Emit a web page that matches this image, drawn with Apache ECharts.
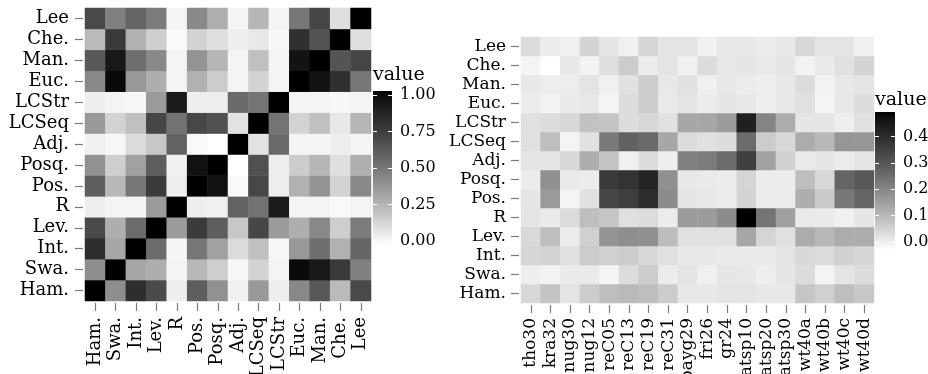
<!DOCTYPE html>
<html>
<head>
<meta charset="utf-8">
<script src="https://cdn.jsdelivr.net/npm/echarts@6/dist/echarts.min.js"></script>
<style>
  html, body { margin: 0; padding: 0; background: #fff; }
  #main { width: 928px; height: 374px; }
</style>
</head>
<body>
<div id="main"></div>
<script>
(function() {
  'use strict';
  var echarts = window.echarts;

  // measures, bottom row first (same order as the x axis)
  var measures = ['Ham.', 'Swa.', 'Int.', 'Lev.', 'R', 'Pos.', 'Posq.', 'Adj.', 'LCSeq', 'LCStr', 'Euc.', 'Man.', 'Che.', 'Lee'];
  var instances = ['tho30', 'kra32', 'nug30', 'nug12', 'reC05', 'reC13', 'reC19', 'reC31', 'bayg29', 'fri26',
    'gr24', 'atsp10', 'atsp20', 'atsp30', 'wt40a', 'wt40b', 'wt40c', 'wt40d'];

  // left panel: measure x measure, rows in measures order
  var simRows = [
    [1, 0.41, 0.81, 0.685, 0.06, 0.60, 0.40, 0.05, 0.37, 0.06, 0.435, 0.625, 0.245, 0.69],
    [0.41, 1, 0.32, 0.29, 0.04, 0.255, 0.17, 0.03, 0.155, 0.04, 0.97, 0.915, 0.755, 0.46],
    [0.81, 0.32, 1, 0.545, 0.035, 0.505, 0.34, 0.125, 0.225, 0.03, 0.375, 0.535, 0.28, 0.57],
    [0.685, 0.29, 0.545, 1, 0.36, 0.75, 0.60, 0.195, 0.705, 0.36, 0.29, 0.435, 0.17, 0.48],
    [0.06, 0.04, 0.035, 0.36, 1, 0.06, 0.05, 0.585, 0.52, 0.905, 0.04, 0.04, 0.02, 0.04],
    [0.60, 0.255, 0.505, 0.75, 0.06, 1, 0.95, 0.02, 0.70, 0.06, 0.28, 0.39, 0.155, 0.43],
    [0.40, 0.17, 0.34, 0.60, 0.05, 0.95, 1, 0.0, 0.66, 0.06, 0.18, 0.26, 0.11, 0.285],
    [0.05, 0.03, 0.125, 0.195, 0.585, 0.02, 0.0, 1, 0.10, 0.55, 0.04, 0.04, 0.06, 0.04],
    [0.37, 0.155, 0.225, 0.705, 0.52, 0.70, 0.66, 0.10, 1, 0.51, 0.155, 0.225, 0.08, 0.26],
    [0.06, 0.04, 0.03, 0.36, 0.905, 0.06, 0.06, 0.55, 0.51, 1, 0.04, 0.04, 0.03, 0.04],
    [0.435, 0.97, 0.375, 0.29, 0.04, 0.28, 0.18, 0.04, 0.155, 0.04, 1, 0.94, 0.80, 0.50],
    [0.625, 0.915, 0.535, 0.435, 0.04, 0.39, 0.26, 0.04, 0.225, 0.04, 0.94, 1, 0.64, 0.71],
    [0.245, 0.755, 0.28, 0.17, 0.02, 0.155, 0.11, 0.06, 0.08, 0.03, 0.80, 0.64, 1, 0.11],
    [0.69, 0.46, 0.57, 0.48, 0.04, 0.43, 0.285, 0.04, 0.26, 0.04, 0.50, 0.71, 0.11, 1]
  ];

  // right panel: measure x instance, rows in measures order
  var instRows = [
    [0.051, 0.087, 0.030, 0.072, 0.098, 0.105, 0.098, 0.072, 0.023, 0.023, 0.030, 0.030, 0.023, 0.023, 0.083, 0.065, 0.098, 0.079],
    [0.012, 0.005, 0.019, 0.019, 0.002, 0.041, 0.072, 0.016, 0.030, 0.009, 0.026, 0.023, 0.012, 0.026, 0.044, 0.002, 0.030, 0.044],
    [0.055, 0.058, 0.034, 0.072, 0.065, 0.072, 0.051, 0.037, 0.023, 0.023, 0.019, 0.019, 0.019, 0.030, 0.051, 0.044, 0.062, 0.055],
    [0.048, 0.098, 0.016, 0.065, 0.176, 0.187, 0.184, 0.101, 0.037, 0.037, 0.037, 0.142, 0.055, 0.037, 0.131, 0.109, 0.131, 0.131],
    [0.030, 0.019, 0.044, 0.098, 0.083, 0.037, 0.044, 0.016, 0.161, 0.161, 0.192, 0.480, 0.238, 0.154, 0.019, 0.019, 0.009, 0.026],
    [0.026, 0.165, 0.002, 0.034, 0.333, 0.350, 0.391, 0.192, 0.026, 0.023, 0.016, 0.058, 0.016, 0.016, 0.127, 0.076, 0.231, 0.266],
    [0.016, 0.184, 0.019, 0.016, 0.355, 0.373, 0.410, 0.184, 0.023, 0.019, 0.016, 0.055, 0.016, 0.016, 0.098, 0.051, 0.266, 0.294],
    [0.026, 0.026, 0.051, 0.127, 0.087, 0.009, 0.044, 0.012, 0.215, 0.223, 0.254, 0.346, 0.150, 0.065, 0.019, 0.026, 0.016, 0.030],
    [0.037, 0.098, 0.002, 0.034, 0.227, 0.274, 0.258, 0.139, 0.044, 0.037, 0.041, 0.254, 0.072, 0.051, 0.131, 0.109, 0.172, 0.172],
    [0.037, 0.044, 0.051, 0.090, 0.087, 0.041, 0.051, 0.034, 0.139, 0.139, 0.161, 0.420, 0.207, 0.131, 0.026, 0.026, 0.012, 0.034],
    [0.016, 0.005, 0.019, 0.023, 0.002, 0.044, 0.072, 0.019, 0.030, 0.016, 0.026, 0.023, 0.012, 0.023, 0.037, 0.002, 0.023, 0.041],
    [0.023, 0.014, 0.014, 0.030, 0.009, 0.034, 0.072, 0.023, 0.034, 0.009, 0.023, 0.016, 0.012, 0.023, 0.044, 0.005, 0.023, 0.030],
    [0.002, -0.017, 0.023, 0.005, 0.039, 0.072, 0.016, 0.030, 0.010, 0.044, 0.023, 0.026, 0.019, 0.026, 0.005, 0.019, 0.034, 0.058],
    [0.044, 0.016, 0.010, 0.058, 0.026, 0.009, 0.055, 0.030, 0.030, 0.009, 0.023, 0.023, 0.016, 0.023, 0.051, 0.030, 0.030, 0.010]
  ];

  var simTicks = [0, 0.25, 0.5, 0.75, 1];
  var instTicks = [0, 0.1, 0.2, 0.3, 0.4];

  var FONT = 'DejaVu Serif';

  // white -> black interpolated in Lab, like scale_fill_gradient
  function labGray(t) {
    var L = 100 * (1 - t);
    var Y = L > 8 ? Math.pow((L + 16) / 116, 3) : L / 903.3;
    var s = Y <= 0.0031308 ? 12.92 * Y : 1.055 * Math.pow(Y, 1 / 2.4) - 0.055;
    var g = Math.round(255 * Math.max(0, Math.min(1, s)));
    return 'rgb(' + g + ',' + g + ',' + g + ')';
  }
  var grays = [];
  var barStops = [];
  for (var k = 0; k <= 20; k++) {
    grays.push(labGray(k / 20));
    barStops.push({ offset: k / 20, color: labGray(1 - k / 20) });
  }

  function cells(rows) {
    var out = [];
    for (var i = 0; i < rows.length; i++) {
      for (var j = 0; j < rows[i].length; j++) {
        out.push([j, i, rows[i][j]]);
      }
    }
    return out;
  }

  function extent(rows) {
    var lo = Infinity, hi = -Infinity;
    rows.forEach(function(r) {
      r.forEach(function(v) { lo = Math.min(lo, v); hi = Math.max(hi, v); });
    });
    return [lo, hi];
  }

  var simExt = extent(simRows);
  var instExt = extent(instRows);
  // colourbar reaches half a bin (of 20) past the limits
  var simPad = (simExt[1] - simExt[0]) / 38;
  var instPad = (instExt[1] - instExt[0]) / 38;

  var tickLine = { color: '#7a7a7a', width: 1.2 };

  function catX(grid, data, size, margin) {
    return {
      type: 'category', gridIndex: grid, data: data, position: 'bottom', offset: 2,
      axisLine: { show: false },
      axisTick: { show: true, alignWithLabel: true, length: 8, lineStyle: tickLine },
      axisLabel: {
        interval: 0, rotate: 90, margin: margin, fontSize: size, fontFamily: FONT, color: '#000',
        padding: [0, 0, 12, 0]
      },
      splitLine: { show: false }
    };
  }

  function catY(grid, size, margin) {
    return {
      type: 'category', gridIndex: grid, data: measures, offset: 2,
      axisLine: { show: false },
      axisTick: { show: true, alignWithLabel: true, length: 8, lineStyle: tickLine },
      axisLabel: { interval: 0, margin: margin, fontSize: size, fontFamily: FONT, color: '#000' },
      splitLine: { show: false }
    };
  }

  function barAxis(grid, side, ext, pad, ticks, digits) {
    return {
      type: 'value', gridIndex: grid, position: side,
      min: ext[0] - pad, max: ext[1] + pad,
      axisLine: { show: false },
      splitLine: { show: false },
      axisTick: { show: true, inside: true, length: 4, customValues: ticks, lineStyle: { color: '#fff', width: 1 } },
      axisLabel: {
        show: side === 'right', customValues: ticks, margin: 8,
        fontSize: 16, fontFamily: FONT, color: '#000',
        formatter: function(v) { return v.toFixed(digits); }
      },
      z: 5
    };
  }

  function colourBar(xi, yi) {
    return {
      type: 'custom', xAxisIndex: xi, yAxisIndex: yi, silent: true, z: 1,
      data: [[0, 0, 0]],
      renderItem: function(params) {
        var rect = params.coordSys;
        return {
          type: 'rect',
          shape: { x: rect.x, y: rect.y, width: rect.width, height: rect.height },
          style: { fill: new echarts.graphic.LinearGradient(0, 0, 0, 1, barStops) }
        };
      }
    };
  }

  var myChart = echarts.init(document.getElementById('main'), null, { renderer: 'canvas' });

  var option = {
    backgroundColor: '#fff',
    animation: false,
    title: [
      { text: 'value', left: 373, top: 66, padding: 0, textStyle: { fontFamily: FONT, fontSize: 19, fontWeight: 'normal', color: '#000' } },
      { text: 'value', left: 875, top: 91, padding: 0, textStyle: { fontFamily: FONT, fontSize: 19, fontWeight: 'normal', color: '#000' } }
    ],
    grid: [
      { left: 85, top: 8, width: 286, height: 293, outerBoundsMode: 'none' },
      { left: 521, top: 37, width: 353, height: 266, outerBoundsMode: 'none' },
      { left: 373, top: 91, width: 19, height: 154, outerBoundsMode: 'none' },
      { left: 875, top: 112, width: 20, height: 138, outerBoundsMode: 'none' }
    ],
    xAxis: [
      catX(0, measures, 18, 14),
      catX(1, instances, 17, 13),
      { type: 'category', gridIndex: 2, data: ['bar'], show: false },
      { type: 'category', gridIndex: 3, data: ['bar'], show: false }
    ],
    yAxis: [
      catY(0, 18, 14),
      catY(1, 17, 13),
      barAxis(2, 'right', simExt, simPad, simTicks, 2),
      barAxis(2, 'left', simExt, simPad, simTicks, 2),
      barAxis(3, 'right', instExt, instPad, instTicks, 1),
      barAxis(3, 'left', instExt, instPad, instTicks, 1)
    ],
    visualMap: [
      { type: 'continuous', show: false, seriesIndex: 0, min: simExt[0], max: simExt[1], inRange: { color: grays } },
      { type: 'continuous', show: false, seriesIndex: 1, min: instExt[0], max: instExt[1], inRange: { color: grays } }
    ],
    series: [
      { type: 'heatmap', xAxisIndex: 0, yAxisIndex: 0, data: cells(simRows), emphasis: { disabled: true }, progressive: 0 },
      { type: 'heatmap', xAxisIndex: 1, yAxisIndex: 1, data: cells(instRows), emphasis: { disabled: true }, progressive: 0 },
      colourBar(2, 2),
      colourBar(3, 4)
    ]
  };

  myChart.setOption(option);
}());
</script>
</body>
</html>
